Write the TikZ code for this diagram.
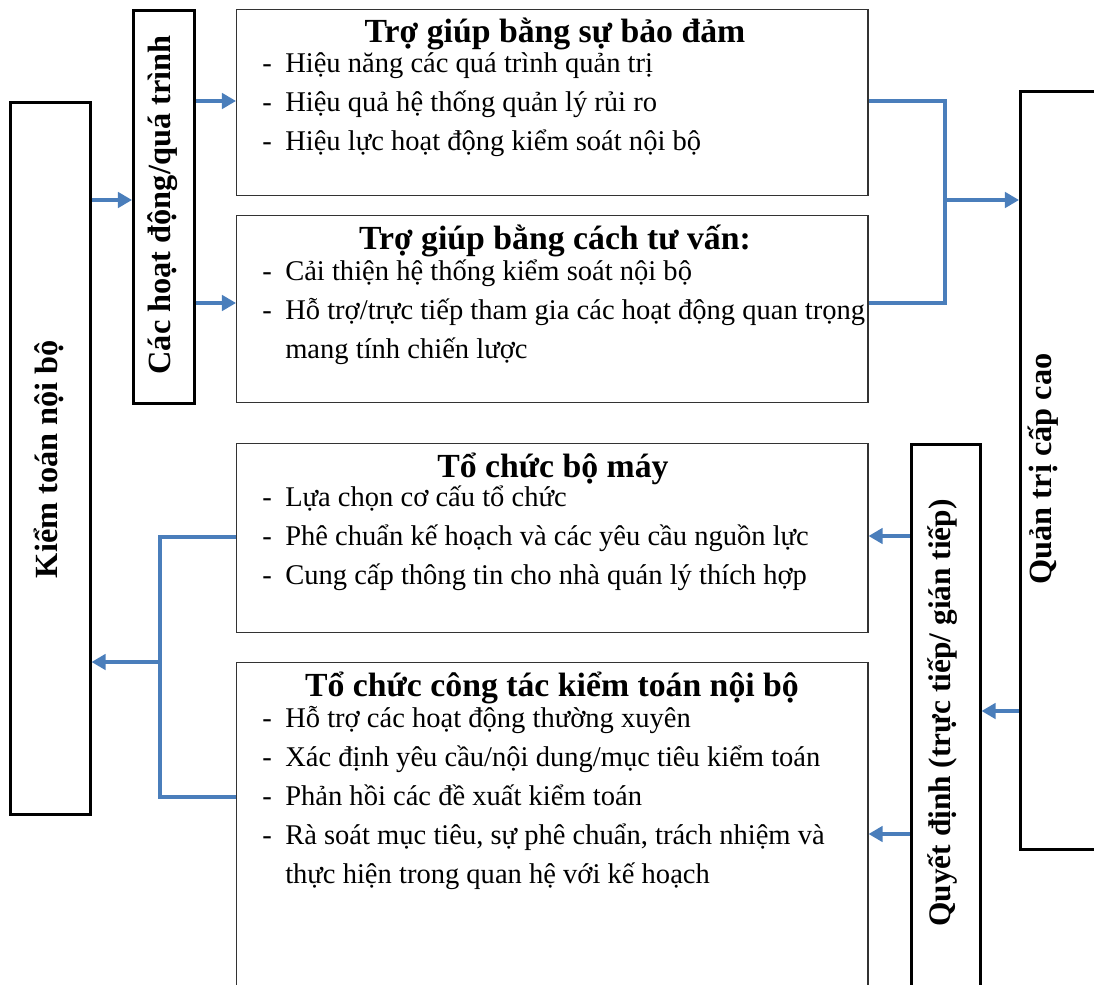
\documentclass[tikz,border=0pt]{standalone}
\usepackage{fontspec}
\setmainfont{Liberation Serif}
\usetikzlibrary{arrows.meta}
\definecolor{linkblue}{HTML}{4A7EBB}
\newcommand{\itm}[1]{\strut\makebox[0.575cm][l]{-}#1}
\newcommand{\cont}[1]{\strut\hspace{0.575cm}#1}

\begin{document}
\begin{tikzpicture}[
    x=0.025cm, y=-0.025cm,
    side/.style={draw, line width=1.8pt, anchor=north west, inner sep=0pt},
    panel/.style={draw=black!80, line width=1pt, anchor=north west, inner sep=0pt, minimum width=15.775cm},
    vlabel/.style={rotate=90, font=\fontsize{23}{28}\selectfont\bfseries, inner sep=0pt},
    head/.style={anchor=base, font=\fontsize{24}{28}\selectfont\bfseries, inner sep=0pt},
    items/.style={anchor=north west, align=left, inner sep=0pt, font=\fontsize{20.3}{27.7}\selectfont},
    link/.style={draw=linkblue, line width=2.3pt},
    flow/.style={link, -{Triangle[length=10pt, width=11pt]}}
]
\clip (0,0) rectangle (1094,985);

% Side boxes
\node[side, minimum width=2cm, minimum height=17.8cm] (kt) at (9,101) {};
\node[vlabel] (ktlabel) at (49,459) {Kiểm toán nội bộ};
\node[side, minimum width=1.525cm, minimum height=9.825cm] (hd) at (132,9) {};
\node[vlabel] (hdlabel) at (163,205) {Các hoạt động/quá trình};
\node[side, minimum width=1.725cm, minimum height=13.925cm] (qd) at (910,443) {};
\node[vlabel, font=\fontsize{22.3}{28}\selectfont\bfseries] (qdlabel) at (943,713) {Quyết định (trực tiếp/ gián tiếp)};
\node[side, minimum width=2.525cm, minimum height=18.95cm] (qt) at (1019,90) {};
\node[vlabel] (qtlabel) at (1043,469) {Quản trị cấp cao};

% Upper panels
\node[panel, minimum height=4.65cm] (b1) at (236,9) {};
\node[head] (b1head) at (555,43) {Trợ giúp bằng sự bảo đảm};
\node[items] (b1list) at (262,45) {\itm{Hiệu năng các quá trình quản trị}\\
    \itm{Hiệu quả hệ thống quản lý rủi ro}\\
    \itm{Hiệu lực hoạt động kiểm soát nội bộ}};

\node[panel, minimum height=4.675cm] (b2) at (236,215) {};
\node[head] (b2head) at (555,250) {Trợ giúp bằng cách tư vấn:};
\node[items] (b2list) at (262,253) {\itm{Cải thiện hệ thống kiểm soát nội bộ}\\
    \itm{Hỗ trợ/trực tiếp tham gia các hoạt động quan trọng}\\
    \cont{mang tính chiến lược}};

% Lower panels
\node[panel, minimum height=4.725cm] (b3) at (236,443) {};
\node[head] (b3head) at (553,477) {Tổ chức bộ máy};
\node[items] (b3list) at (262,479) {\itm{Lựa chọn cơ cấu tổ chức}\\
    \itm{Phê chuẩn kế hoạch và các yêu cầu nguồn lực}\\
    \itm{Cung cấp thông tin cho nhà quán lý thích hợp}};

\node[panel, minimum height=8.45cm] (b4) at (236,662) {};
\node[head] (b4head) at (552,696) {Tổ chức công tác kiểm toán nội bộ};
\node[items] (b4list) at (262,700) {\itm{Hỗ trợ các hoạt động thường xuyên}\\
    \itm{Xác định yêu cầu/nội dung/mục tiêu kiểm toán}\\
    \itm{Phản hồi các đề xuất kiểm toán}\\
    \itm{Rà soát mục tiêu, sự phê chuẩn, trách nhiệm và}\\
    \cont{thực hiện trong quan hệ với kế hoạch}};

% Flows, upper half
\draw[flow] (kt.east |- 0,200) -- (hd.west |- 0,200);
\draw[flow] (hd.east |- 0,101) -- (b1.west |- 0,101);
\draw[flow] (hd.east |- 0,303) -- (b2.west |- 0,303);
\coordinate (jr) at (945,200);
\draw[link] (b1.east |- 0,101) -| (jr) |- (b2.east |- 0,303);
\draw[flow] (jr) -- (qt.west |- jr);

% Flows, lower half
\draw[flow] (qt.west |- 0,711) -- (qd.east |- 0,711);
\draw[flow] (qd.west |- 0,536) -- (b3.east |- 0,536);
\draw[flow] (qd.west |- 0,834) -- (b4.east |- 0,834);
\coordinate (jl) at (160,662);
\draw[link] (b3.west |- 0,537) -| (jl) |- (b4.west |- 0,797);
\draw[flow] (jl) -- (kt.east |- jl);

\end{tikzpicture}
\end{document}
